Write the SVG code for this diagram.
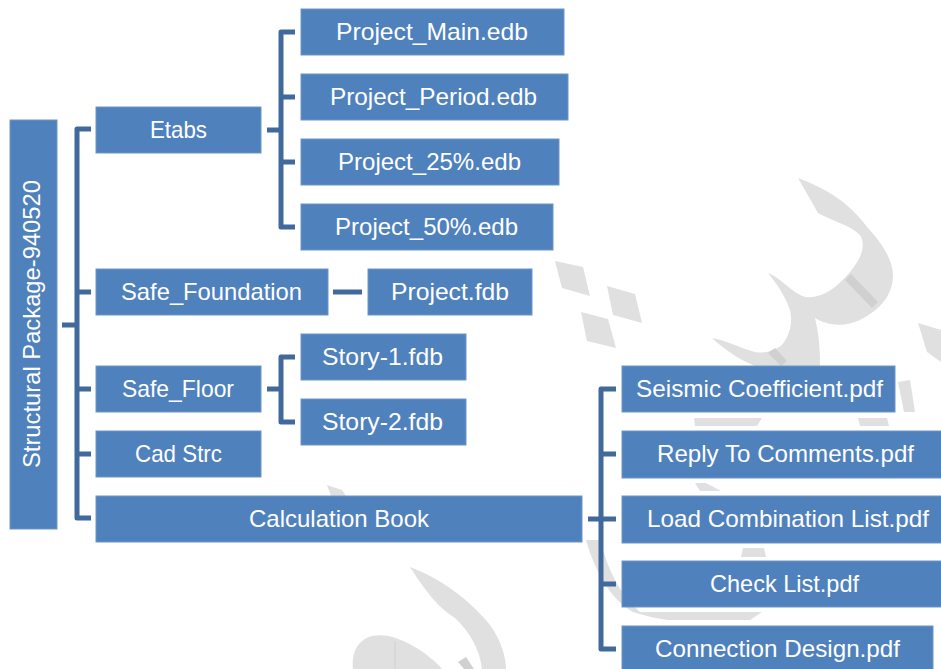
<svg xmlns="http://www.w3.org/2000/svg" width="941" height="669" viewBox="0 0 941 669">
  <style>
    .box { fill: #4F81BD; stroke: #6F95C8; stroke-width: 1; }
    .lbl { font-family: "Liberation Sans", Arial, sans-serif; font-size: 24px; fill: #FFFFFF; text-anchor: middle; }
    .link { fill: none; stroke: #40699C; stroke-width: 5; stroke-linejoin: round; stroke-linecap: butt; }
    .wm { fill: #E0E0E0; }
    .wm2 { fill: #D0D0D0; }
  </style>

  <rect x="0" y="0" width="941" height="669" fill="#FFFFFF"/>

  <!-- faint logo watermark behind the tree -->
  <g id="watermark">
    <path class="wm" d="M798,178 C825,188 850,203 867,227 C882,243 893,260 893,275 C893,295 880,310 860,320 C845,327 828,326 815,318 C818,330 820,345 820,362 L820,366 L755,366 C740,360 725,350 712,338 C725,340 740,348 755,352 C765,354 775,350 782,345 C790,335 793,322 790,310 C786,298 778,285 768,273 C780,277 792,293 805,297 C820,299 835,290 850,272 C862,258 866,245 860,235 C850,225 830,220 818,213 Z"/>
    <polygon class="wm2" points="845,280 851,274 878,302 872,308"/>
    <polygon class="wm2" points="768,353 775,348 787,361 781,366"/>
    <polygon class="wm" points="555,261 583,267 590,296 562,288"/>
    <polygon class="wm" points="607,286 635,294 642,323 613,315"/>
    <polygon class="wm" points="581,312 608,319 616,348 587,341"/>
    <polygon class="wm" points="918,323 941,330 941,362 927,352"/>
    <polygon class="wm" points="898,382 910,380 915,412 904,412"/>
    <polygon class="wm" points="694,418 762,418 757,426 695,426"/>
    <polygon class="wm" points="858,418 887,418 889,426 860,426"/>
    <polygon class="wm" points="695,483 706,483 721,491 700,491"/>
    <polygon class="wm" points="743,548 764,548 766,557 741,557"/>
    <path class="wm" d="M633,612 H762 L750,620 H668 Q648,617 633,612 Z"/>
    <path class="wm" d="M586,540 L600,540 C608,570 620,595 640,612 L633,612 C612,600 596,575 586,540 Z"/>
    <polygon class="wm" points="327,485 342,490 346,496 331,496"/>
    <path class="wm" d="M410,567 C440,578 470,600 490,625 C502,642 506,658 506,669 L482,669 C480,650 470,632 455,618 C440,608 430,598 410,567 Z"/>
    <path class="wm" d="M353,669 C351,652 358,640 372,636 C385,633 400,638 415,647 C428,655 436,662 442,669 Z"/>
    <line x1="395" y1="641" x2="395" y2="669" stroke="#CFCFCF" stroke-width="1"/>
    <polygon class="wm2" points="458,662 466,657 474,669 464,669"/>
  </g>

  <!-- tree connectors -->
  <g id="connectors">
    <path class="link" d="M62,325 H77"/>
    <path class="link" d="M91,129 H77 V518 H91"/>
    <path class="link" d="M77,292 H91 M77,389 H91 M77,454 H91"/>
    <path class="link" d="M267,130 H281"/>
    <path class="link" d="M295,32 H281 V227 H295"/>
    <path class="link" d="M281,97 H295 M281,162 H295"/>
    <path class="link" d="M333,292 H362"/>
    <path class="link" d="M267,389 H281"/>
    <path class="link" d="M295,357 H281 V422 H295"/>
    <path class="link" d="M588,519 H601"/>
    <path class="link" d="M616,389 H601 V649 H616"/>
    <path class="link" d="M601,454 H616 M601,519 H616 M601,584 H616"/>
  </g>

  <!-- root -->
  <g id="root">
    <rect class="box" x="10" y="120" width="47" height="409"/>
    <text class="lbl" x="40" y="324" transform="rotate(-90 40 324)" textLength="288" lengthAdjust="spacingAndGlyphs">Structural Package-940520</text>
  </g>

  <!-- first level -->
  <g id="etabs">
    <rect class="box" x="96" y="107" width="165" height="46"/>
    <text class="lbl" x="178.5" y="138" textLength="57" lengthAdjust="spacingAndGlyphs">Etabs</text>
  </g>
  <g id="safe-foundation">
    <rect class="box" x="96" y="269" width="232" height="46"/>
    <text class="lbl" x="211.5" y="300" textLength="181" lengthAdjust="spacingAndGlyphs">Safe_Foundation</text>
  </g>
  <g id="safe-floor">
    <rect class="box" x="96" y="366" width="165" height="46"/>
    <text class="lbl" x="178" y="397" textLength="112" lengthAdjust="spacingAndGlyphs">Safe_Floor</text>
  </g>
  <g id="cad-strc">
    <rect class="box" x="96" y="431" width="165" height="46"/>
    <text class="lbl" x="178.5" y="462" textLength="87" lengthAdjust="spacingAndGlyphs">Cad Strc</text>
  </g>
  <g id="calculation-book">
    <rect class="box" x="96" y="496" width="486" height="46"/>
    <text class="lbl" x="339" y="527" textLength="180" lengthAdjust="spacingAndGlyphs">Calculation Book</text>
  </g>

  <!-- Etabs models -->
  <g id="project-main">
    <rect class="box" x="301" y="9" width="263" height="46"/>
    <text class="lbl" x="432" y="40" textLength="192" lengthAdjust="spacingAndGlyphs">Project_Main.edb</text>
  </g>
  <g id="project-period">
    <rect class="box" x="301" y="74" width="267" height="46"/>
    <text class="lbl" x="433.5" y="105" textLength="207" lengthAdjust="spacingAndGlyphs">Project_Period.edb</text>
  </g>
  <g id="project-25">
    <rect class="box" x="301" y="139" width="258" height="46"/>
    <text class="lbl" x="429.5" y="170" textLength="183" lengthAdjust="spacingAndGlyphs">Project_25%.edb</text>
  </g>
  <g id="project-50">
    <rect class="box" x="301" y="204" width="252" height="46"/>
    <text class="lbl" x="426.5" y="235" textLength="183" lengthAdjust="spacingAndGlyphs">Project_50%.edb</text>
  </g>

  <!-- SAFE models -->
  <g id="project-fdb">
    <rect class="box" x="368" y="269" width="164" height="46"/>
    <text class="lbl" x="450" y="300" textLength="118" lengthAdjust="spacingAndGlyphs">Project.fdb</text>
  </g>
  <g id="story-1">
    <rect class="box" x="301" y="334" width="165" height="46"/>
    <text class="lbl" x="382.5" y="365" textLength="121" lengthAdjust="spacingAndGlyphs">Story-1.fdb</text>
  </g>
  <g id="story-2">
    <rect class="box" x="301" y="399" width="165" height="46"/>
    <text class="lbl" x="382.5" y="430" textLength="121" lengthAdjust="spacingAndGlyphs">Story-2.fdb</text>
  </g>

  <!-- calculation book documents -->
  <g id="seismic-coefficient">
    <rect class="box" x="622" y="366" width="273" height="46"/>
    <text class="lbl" x="759.5" y="397" textLength="247" lengthAdjust="spacingAndGlyphs">Seismic Coefficient.pdf</text>
  </g>
  <g id="reply-to-comments">
    <rect class="box" x="622" y="431" width="330" height="47"/>
    <text class="lbl" x="785.5" y="462" textLength="257" lengthAdjust="spacingAndGlyphs">Reply To Comments.pdf</text>
  </g>
  <g id="load-combination-list">
    <rect class="box" x="622" y="496" width="330" height="47"/>
    <text class="lbl" x="788" y="527" textLength="282" lengthAdjust="spacingAndGlyphs">Load Combination List.pdf</text>
  </g>
  <g id="check-list">
    <rect class="box" x="622" y="561" width="330" height="46"/>
    <text class="lbl" x="784.5" y="592" textLength="149" lengthAdjust="spacingAndGlyphs">Check List.pdf</text>
  </g>
  <g id="connection-design">
    <rect class="box" x="622" y="626" width="311" height="50"/>
    <text class="lbl" x="777.5" y="657" textLength="245" lengthAdjust="spacingAndGlyphs">Connection Design.pdf</text>
  </g>
</svg>
